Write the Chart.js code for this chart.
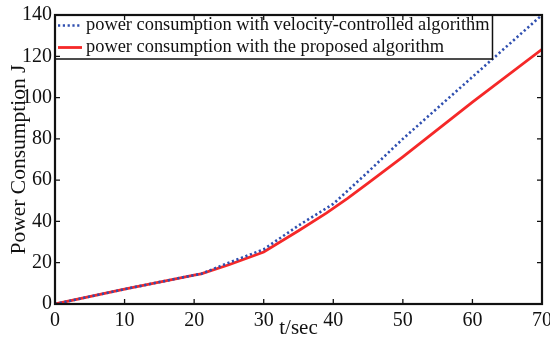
<!DOCTYPE html>
<html>
<head>
<meta charset="UTF-8" />
<title>Power consumption</title>
<script src="https://cdn.jsdelivr.net/npm/chart.js"></script>
<style>
  html, body { margin: 0; padding: 0; background: #fff; }
  #wrap { width: 550px; height: 341px; }
</style>
</head>
<body>
<div id="wrap"><canvas id="powerChart" width="550" height="341"></canvas></div>
<script>
    // ----------- data ---------------------------------
    const velTimes = [0, 10, 20, 21, 25, 30, 35, 40, 45, 50, 60, 70];
    const velPower = [0, 7.2, 14, 14.6, 20, 26.5, 38, 48.5, 64, 80, 110, 140];

    const propTimes = [0, 10, 20, 21, 25, 30, 35, 39, 42, 45, 50, 60, 70];
    const propPower = [0, 7.2, 14, 14.6, 19, 25.2, 35.5, 44, 51, 58.5, 71.3, 97.8, 123.4];

    const xTicks = [0, 10, 20, 30, 40, 50, 60, 70];
    const yTicks = [0, 20, 40, 60, 80, 100, 120, 140];

    const serif = '"Liberation Serif", "DejaVu Serif", serif';

    function toPoints(xs, ys) {
        return xs.map((x, i) => ({ x: x, y: ys[i] }));
    }

    // frame and inward ticks on all four sides
    const framePlugin = {
        id: 'frame',
        afterDraw(chart) {
            const ctx = chart.ctx;
            const a = chart.chartArea;
            const xs = chart.scales.x;
            const ys = chart.scales.y;
            const len = 5;
            ctx.save();
            ctx.strokeStyle = '#111';
            ctx.lineWidth = 1.3;
            ctx.beginPath();
            xTicks.forEach(v => {
                const px = xs.getPixelForValue(v);
                ctx.moveTo(px, a.bottom); ctx.lineTo(px, a.bottom - len);
                ctx.moveTo(px, a.top); ctx.lineTo(px, a.top + len);
            });
            yTicks.forEach(v => {
                const py = ys.getPixelForValue(v);
                ctx.moveTo(a.left, py); ctx.lineTo(a.left + len, py);
                ctx.moveTo(a.right, py); ctx.lineTo(a.right - len, py);
            });
            ctx.stroke();
            ctx.lineWidth = 2.2;
            ctx.strokeRect(a.left, a.top, a.right - a.left, a.bottom - a.top);
            ctx.restore();
        }
    };

    // boxed legend in the top-left corner of the plot
    const boxLegendPlugin = {
        id: 'boxLegend',
        afterDatasetsDraw(chart) {
            const ctx = chart.ctx;
            const a = chart.chartArea;
            const rowH = 22;
            ctx.save();
            ctx.font = '18.4px ' + serif;
            ctx.textBaseline = 'middle';
            let textRight = 0;
            chart.data.datasets.forEach(ds => {
                textRight = Math.max(textRight, a.left + 31 + ctx.measureText(ds.label).width);
            });
            const boxW = textRight + 3 - a.left;
            const boxH = rowH * chart.data.datasets.length;
            ctx.fillStyle = '#fff';
            ctx.fillRect(a.left, a.top, boxW, boxH);
            chart.data.datasets.forEach((ds, i) => {
                const cy = a.top + 10.5 + i * rowH;
                ctx.strokeStyle = ds.borderColor;
                ctx.lineWidth = ds.borderWidth;
                ctx.setLineDash(ds.borderDash || []);
                ctx.beginPath();
                ctx.moveTo(a.left + 3, cy);
                ctx.lineTo(a.left + 27, cy);
                ctx.stroke();
                ctx.setLineDash([]);
                ctx.fillStyle = '#111';
                ctx.fillText(ds.label, a.left + 31, cy);
            });
            ctx.strokeStyle = '#111';
            ctx.lineWidth = 1.5;
            ctx.strokeRect(a.left, a.top, boxW, boxH);
            ctx.restore();
        }
    };

    const chartCtx = document.getElementById('powerChart').getContext('2d');

    const powerChart = new Chart(chartCtx, {
        type: 'line',
        data: {
            datasets: [{
                label: 'power consumption with velocity-controlled algorithm',
                data: toPoints(velTimes, velPower),
                borderColor: '#2f4fb0',
                backgroundColor: '#2f4fb0',
                borderWidth: 2.6,
                borderDash: [2.2, 2.6],
                pointRadius: 0,
                tension: 0,
                fill: false
            }, {
                label: 'power consumption with the proposed algorithm',
                data: toPoints(propTimes, propPower),
                borderColor: '#f52828',
                backgroundColor: '#f52828',
                borderWidth: 2.8,
                pointRadius: 0,
                tension: 0,
                fill: false
            }]
        },
        options: {
            responsive: false,
            animation: false,
            layout: { padding: { top: 14, right: 8, left: 0, bottom: 0 } },
            scales: {
                x: {
                    type: 'linear',
                    min: 0,
                    max: 70,
                    afterBuildTicks: s => { s.ticks = xTicks.map(v => ({ value: v })); },
                    afterFit: s => { s.height = 37; s.paddingLeft = 0; s.paddingRight = 0; },
                    grid: { display: false, drawTicks: false },
                    border: { display: false },
                    ticks: {
                        padding: 5,
                        color: '#111',
                        maxRotation: 0,
                        font: { family: serif, size: 20 }
                    },
                    title: {
                        display: true,
                        text: 't/sec',
                        color: '#111',
                        padding: { top: -10, bottom: 0 },
                        font: { family: serif, size: 21 }
                    }
                },
                y: {
                    type: 'linear',
                    min: 0,
                    max: 140,
                    afterBuildTicks: s => { s.ticks = yTicks.map(v => ({ value: v })); },
                    afterFit: s => { s.width = 55; },
                    grid: { display: false, drawTicks: false },
                    border: { display: false },
                    ticks: {
                        padding: 3,
                        color: '#111',
                        font: { family: serif, size: 20 }
                    },
                    title: {
                        display: true,
                        text: 'Power Consumption J',
                        color: '#111',
                        padding: { top: 6, bottom: 0 },
                        font: { family: serif, size: 21.5 }
                    }
                }
            },
            plugins: {
                legend: { display: false },
                tooltip: { enabled: false }
            }
        },
        plugins: [framePlugin, boxLegendPlugin]
    });
</script>
</body>
</html>
